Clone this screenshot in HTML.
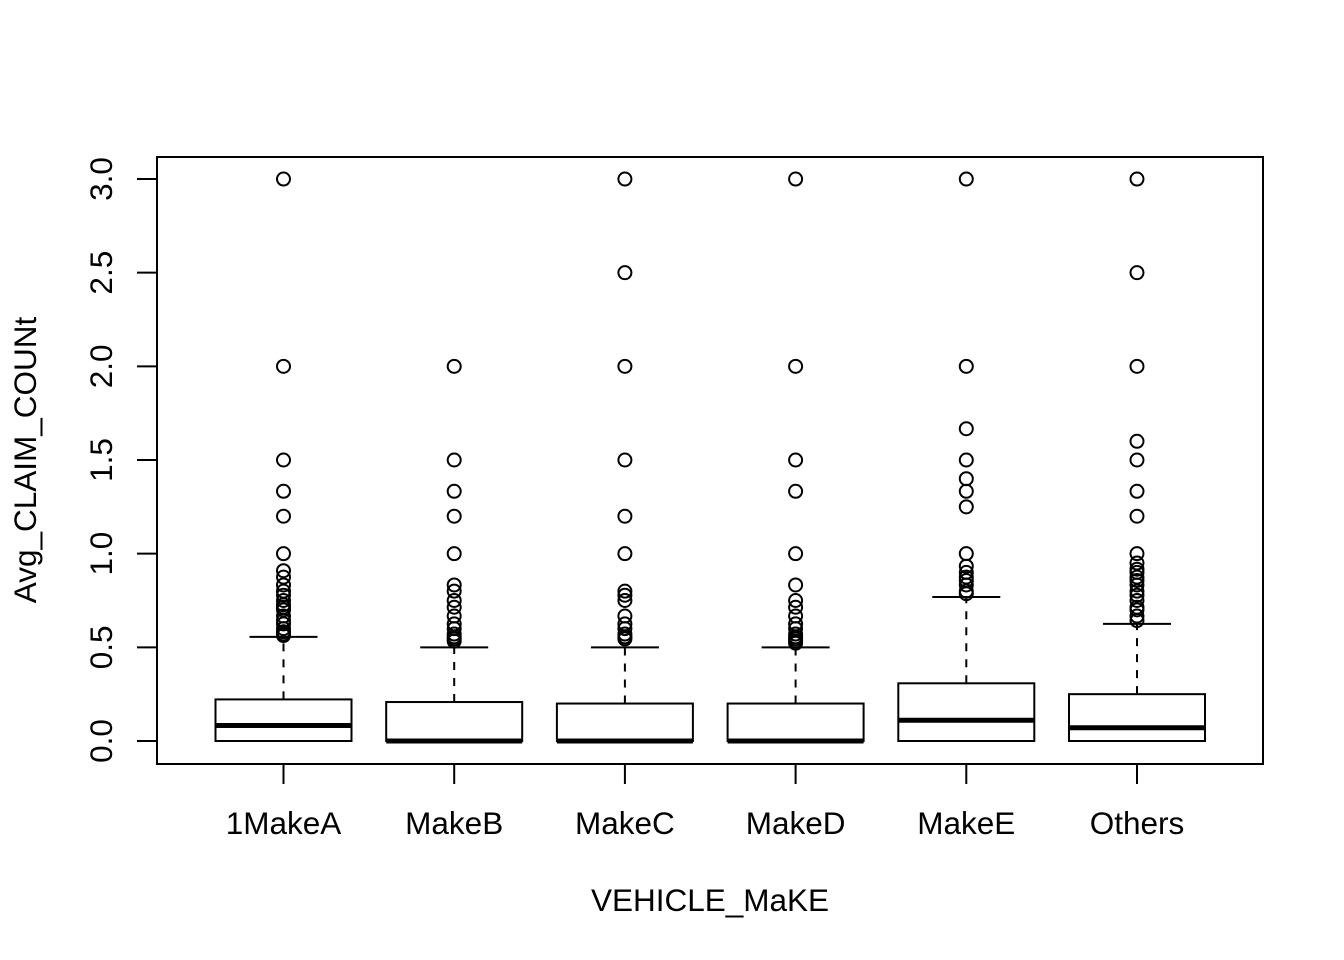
<!DOCTYPE html>
<html><head><meta charset="utf-8"><style>body{margin:0;background:#fff}svg{display:block}text{font-family:"Liberation Sans",Arial,sans-serif;fill:#000}</style></head>
<body>
<svg id="chart" width="1344" height="960" xmlns="http://www.w3.org/2000/svg">
<rect x="157" y="157" width="1106" height="607" fill="none" stroke="#000" stroke-width="2"/>
<g id="g"></g>
<text x="710" y="911" font-size="31.5" text-anchor="middle">VEHICLE_MaKE</text>
<text transform="translate(36,460) rotate(-90)" font-size="31.5" text-anchor="middle">Avg_CLAIM_COUNt</text>
</svg>
<script>
const categories=["1MakeA","MakeB","MakeC","MakeD","MakeE","Others"];
const q1=[0,0,0,0,0,0];
const medians=[0.083,0,0,0,0.111,0.071];
const q3=[0.222,0.208,0.2,0.2,0.308,0.25];
const whiskerLow=[0,0,0,0,0,0];
const whiskerHigh=[0.556,0.5,0.5,0.5,0.769,0.625];
const outliers=[
[3,2,1.5,1.333,1.2,1.0,0.909,0.875,0.833,0.8,0.778,0.75,0.727,0.714,0.7,0.667,0.643,0.625,0.6,0.583,0.571,0.563],
[2,1.5,1.333,1.2,1.0,0.833,0.8,0.75,0.714,0.667,0.625,0.6,0.571,0.556,0.545,0.533],
[3,2.5,2,1.5,1.2,1.0,0.8,0.778,0.75,0.667,0.625,0.6,0.571,0.556,0.545],
[3,2,1.5,1.333,1.0,0.833,0.75,0.714,0.667,0.625,0.6,0.571,0.556,0.545,0.533,0.522],
[3,2,1.667,1.5,1.4,1.333,1.25,1.0,0.933,0.9,0.875,0.857,0.833,0.8,0.786],
[3,2.5,2,1.6,1.5,1.333,1.2,1.0,0.95,0.917,0.9,0.875,0.857,0.833,0.8,0.778,0.75,0.714,0.7,0.667,0.643]
];
const yTicks=[0,0.5,1,1.5,2,2.5,3];
const yTickLabels=["0.0","0.5","1.0","1.5","2.0","2.5","3.0"];
const ns="http://www.w3.org/2000/svg";
const g=document.getElementById('g');
function y(v){return 741-v*187.33;}
function x(i){return 283.5+i*170.7;}
function mk(t,a){const e=document.createElementNS(ns,t);for(const k in a)e.setAttribute(k,a[k]);g.appendChild(e);return e;}
yTicks.forEach((v,i)=>{
 const l=mk('line',{x1:137,x2:157,y1:y(v),y2:y(v),stroke:'#000','stroke-width':2});
 
 
 const t=mk('text',{transform:`translate(112,${y(v)}) rotate(-90)`,'font-size':31.5,'text-anchor':'middle'});
 t.textContent=yTickLabels[i];
 
 
});
const hw=68;
categories.forEach((c,i)=>{
 const cx=x(i);
 const tk=mk('line',{x1:cx,x2:cx,y1:764,y2:784,stroke:'#000','stroke-width':2});
 
 
 const t=mk('text',{x:cx,y:834,'font-size':31.5,'text-anchor':'middle'});
 t.textContent=c;
 
 
 const w=mk('line',{x1:cx,x2:cx,y1:y(q3[i]),y2:y(whiskerHigh[i]),stroke:'#000','stroke-width':2,'stroke-dasharray':'8,8'});
 
 
 const cap=mk('line',{x1:cx-hw/2,x2:cx+hw/2,y1:y(whiskerHigh[i]),y2:y(whiskerHigh[i]),stroke:'#000','stroke-width':2});
 
 
 const b=mk('rect',{x:cx-hw,y:y(q3[i]),width:hw*2,height:y(q1[i])-y(q3[i]),fill:'#fff',stroke:'#000','stroke-width':2});
 
 
 const m=mk('line',{x1:cx-hw,x2:cx+hw,y1:y(medians[i]),y2:y(medians[i]),stroke:'#000','stroke-width':5});
 
 
 outliers[i].forEach(v=>{
  const p=mk('circle',{cx:cx,cy:y(v),r:6.5,fill:'none',stroke:'#000','stroke-width':2});
  
  
 });
});
</script>
</body></html>
